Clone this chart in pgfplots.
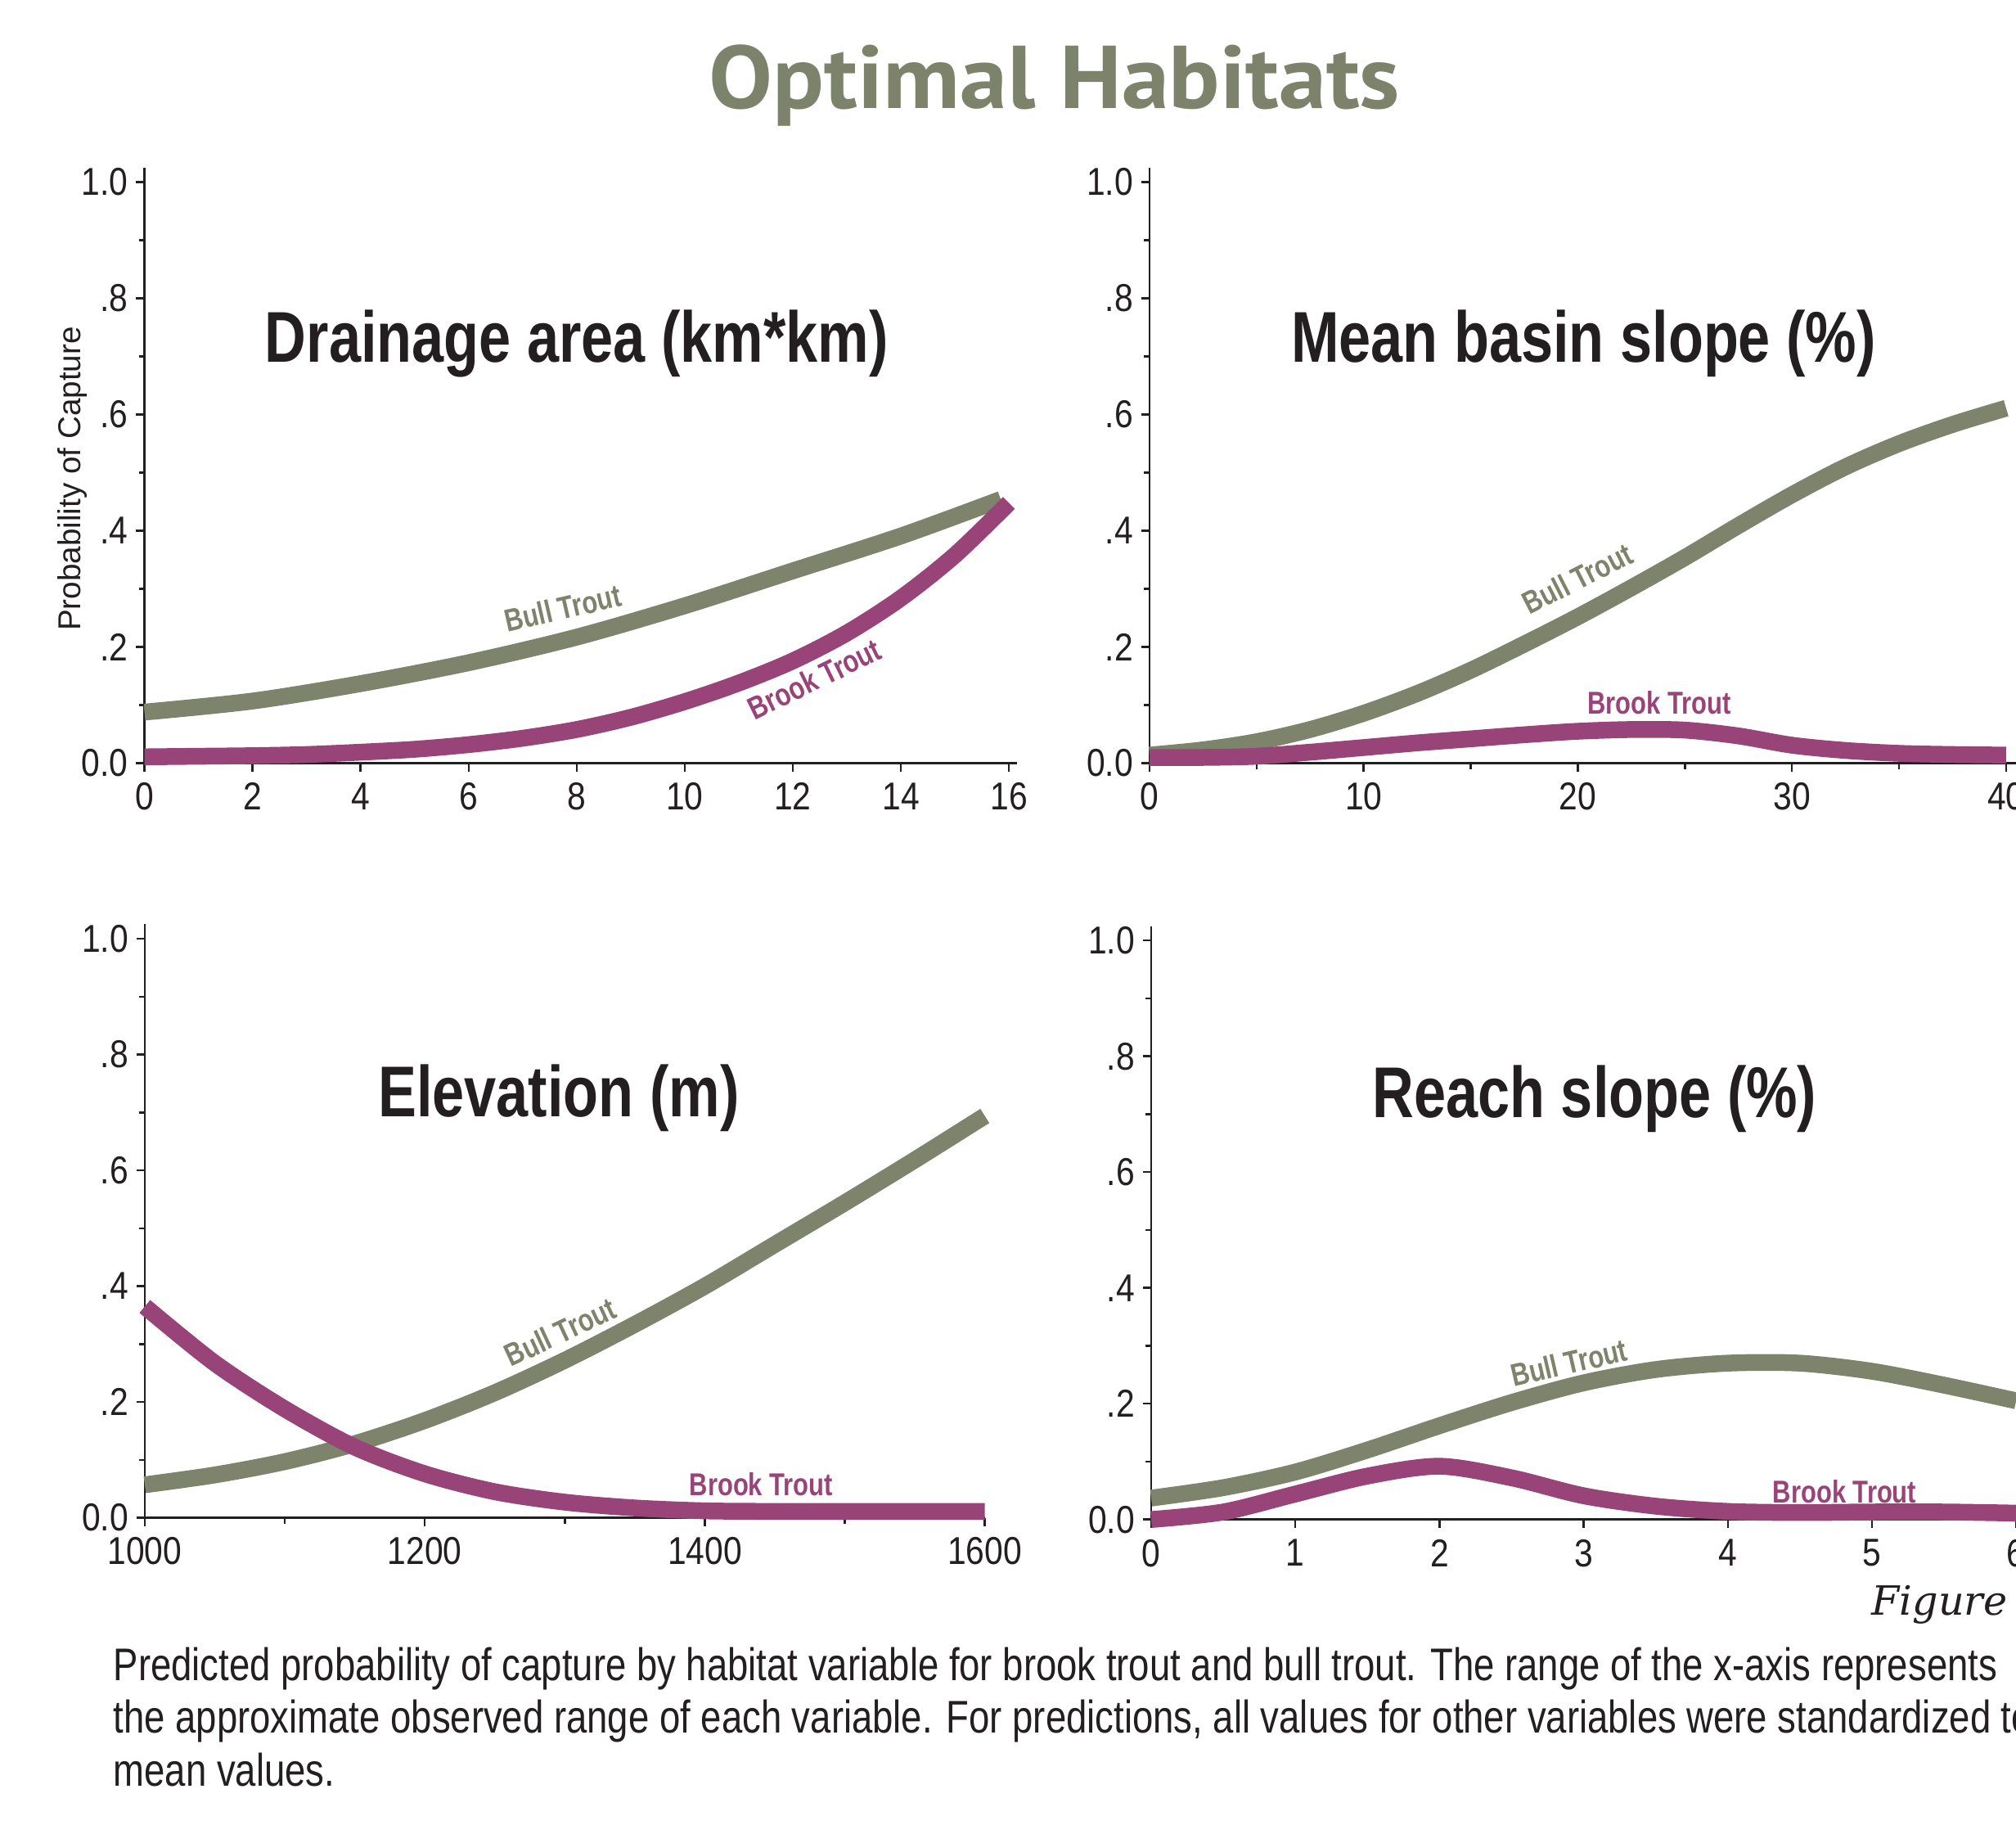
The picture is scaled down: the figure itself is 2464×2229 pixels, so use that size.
\documentclass[border=0pt]{standalone}
\usepackage{fontspec}
\usepackage{pgfplots}
\pgfplotsset{compat=1.18}
\setmainfont{Liberation Sans}
\newfontfamily\tickfont[FakeStretch=0.86]{Liberation Sans}
\newfontfamily\condsans[FakeStretch=0.80]{Liberation Sans}
\newfontfamily\capfont[FakeStretch=0.814]{Liberation Sans}
\newfontfamily\titlefont[FakeStretch=1.07]{PT Sans}
\newfontfamily\figfont{DejaVu Serif}
\definecolor{bullc}{RGB}{126,131,107}
\definecolor{brookc}{RGB}{152,68,121}
\definecolor{titlec}{RGB}{125,130,106}
\definecolor{ink}{RGB}{35,31,32}
\pgfplotsset{
  trout/.style={
    scale only axis, axis lines*=left, clip=false,
    ymin=0, ymax=1.025, height=72.52mm,
    ytick={0,0.2,0.4,0.6,0.8,1}, yticklabels={0.0,.2,.4,.6,.8,1.0},
    minor ytick={0.1,0.3,0.5,0.7,0.9},
    tick align=outside,
    major tick length=1.05mm, minor tick length=0.7mm,
    every tick/.style={ink, line width=0.25mm},
    axis line style={ink, line width=0.25mm},
    x axis line style={shorten <=-1mm},
    y axis line style={shorten <=-0.5mm},
    tick label style={font=\tickfont\fontsize{13.5}{15}\selectfont, text=ink},
    yticklabel style={inner sep=0.9mm},
    xticklabel style={inner sep=1.3mm},
    anchor=south west,
  },
  bull/.style={bullc, line width=2.05mm, smooth, line cap=butt, no markers},
  brook/.style={brookc, line width=2.05mm, smooth, line cap=butt, no markers},
}
\tikzset{
  ptitle/.style={anchor=base, font=\condsans\bfseries\fontsize{25}{30}\selectfont, text=ink},
  bulllab/.style={font=\condsans\bfseries\fontsize{11}{13}\selectfont, text=bullc},
  brooklab/.style={font=\condsans\bfseries\fontsize{11}{13}\selectfont, text=brookc},
}
\begin{document}
\begin{tikzpicture}[x=0.1mm,y=0.1mm]
\path[use as bounding box] (0,0) rectangle (2464,2229);
\clip (0,0) rectangle (2464,2229);

% ---------- top left: drainage area
\begin{axis}[trout, at={(17.66mm,129.64mm)}, width=106.64mm, height=72.78mm,
  xmin=0, xmax=16.15, xtick={0,2,4,6,8,10,12,14,16},
  xticklabels={0,2,4,6,8,10,12,14,16}]
\addplot[bull] coordinates {(0,0.088) (2,0.107) (4,0.137) (6,0.173) (8,0.217) (10,0.271) (12,0.331) (14,0.391) (15.85,0.454)};
\addplot[brook] coordinates {(0,0.011) (1,0.012) (2,0.013) (3,0.015) (4,0.019) (5,0.024) (6,0.032) (7,0.043) (8,0.058) (9,0.079) (10,0.106) (11,0.138) (12,0.176) (13,0.224) (14,0.284) (15,0.358) (16,0.448)};
\node[ptitle] at (axis cs:8,0.69) {Drainage area (km*km)};
\node[bulllab, rotate=13] at (axis cs:7.74,0.267) {Bull Trout};
\node[brooklab, rotate=26] at (axis cs:12.40,0.145) {Brook Trout};
\end{axis}

% ---------- top right: mean basin slope
\begin{axis}[trout, at={(140.5mm,129.64mm)}, width=106.0mm, height=72.78mm,
  xmin=0, xmax=40.5, xtick={0,10,20,30,40}, xticklabels={0,10,20,30,40},
  minor xtick={5,15,25,35}]
\addplot[bull] coordinates {(0,0.014) (2.5,0.023) (5,0.037) (7.5,0.058) (10,0.086) (12.5,0.120) (15,0.160) (17.5,0.205) (20,0.252) (22.5,0.302) (25,0.354) (27.5,0.409) (30,0.462) (32.5,0.510) (35,0.550) (37.5,0.583) (40,0.611)};
\addplot[brook] coordinates {(0,0.010) (2.5,0.010) (5,0.012) (7.5,0.019) (10,0.027) (12.5,0.035) (15,0.042) (17.5,0.049) (20,0.055) (22.5,0.058) (25,0.057) (27.5,0.047) (30,0.031) (32.5,0.022) (35,0.017) (37.5,0.015) (40,0.014)};
\node[ptitle] at (axis cs:20.27,0.69) {Mean basin slope (\%)};
\node[bulllab, rotate=27] at (axis cs:19.98,0.318) {Bull Trout};
\node[brooklab, anchor=base] at (axis cs:23.8,0.084) {Brook Trout};
\end{axis}

% ---------- bottom left: elevation
\begin{axis}[trout, at={(17.7mm,37.44mm)}, width=102.67mm,
  xmin=1000, xmax=1600, xtick={1000,1200,1400,1600},
  xticklabels={1000,1200,1400,1600}, minor xtick={1100,1300,1500}]
\addplot[bull] coordinates {(1000,0.057) (1050,0.074) (1100,0.097) (1150,0.128) (1200,0.168) (1250,0.216) (1300,0.272) (1350,0.334) (1400,0.400) (1450,0.472) (1500,0.544) (1550,0.618) (1600,0.694)};
\addplot[brook] coordinates {(1000,0.365) (1050,0.267) (1100,0.188) (1150,0.122) (1200,0.076) (1250,0.045) (1300,0.027) (1350,0.017) (1400,0.012) (1450,0.011) (1500,0.011) (1550,0.011) (1600,0.011)};
\node[ptitle] at (axis cs:1295.7,0.693) {Elevation (m)};
\node[bulllab, rotate=25] at (axis cs:1296.5,0.321) {Bull Trout};
\node[brooklab, anchor=base] at (axis cs:1440.3,0.039) {Brook Trout};
\end{axis}

% ---------- bottom right: reach slope
\begin{axis}[trout, at={(140.7mm,37.23mm)}, width=107.48mm,
  xmin=0, xmax=6.1, xtick={0,1,2,3,4,5,6}, xticklabels={0,1,2,3,4,5,6}]
\addplot[bull] coordinates {(0,0.037) (0.5,0.055) (1,0.082) (1.5,0.120) (2,0.162) (2.5,0.202) (3,0.236) (3.5,0.259) (4,0.270) (4.5,0.270) (5,0.256) (5.5,0.232) (6,0.205)};
\addplot[brook] coordinates {(0,0.000) (0.5,0.013) (1,0.044) (1.5,0.075) (2,0.092) (2.5,0.072) (3,0.041) (3.5,0.023) (4,0.014) (4.5,0.012) (5,0.013) (5.5,0.013) (6,0.011)};
\node[ptitle] at (axis cs:3.076,0.694) {Reach slope (\%)};
\node[bulllab, rotate=13] at (axis cs:2.897,0.271) {Bull Trout};
\node[brooklab, anchor=base] at (axis cs:4.81,0.029) {Brook Trout};
\end{axis}

% ---------- texts
\node[anchor=base, inner sep=0, text=titlec, font=\titlefont\bfseries\fontsize{31}{36}\selectfont] at (1289,2096) {Optimal Habitats};
\node[rotate=90, inner sep=0, text=ink, font=\fontsize{11}{13}\selectfont] at (89,1644) {Probability of Capture};
\node[anchor=base west, inner sep=0, text=ink, font=\figfont\itshape\fontsize{14}{16}\selectfont] at (2287,256) {Figure 3};
\node[anchor=base west, inner sep=0, text=ink, font=\capfont\fontsize{15.9}{18}\selectfont] at (138,176) {Predicted probability of capture by habitat variable for brook trout and bull trout. The range of the x-axis represents};
\node[anchor=base west, inner sep=0, text=ink, font=\capfont\fontsize{15.9}{18}\selectfont] at (138,112) {the approximate observed range of each variable. For predictions, all values for other variables were standardized to their};
\node[anchor=base west, inner sep=0, text=ink, font=\capfont\fontsize{15.9}{18}\selectfont] at (138,47) {mean values.};
\end{tikzpicture}
\end{document}
